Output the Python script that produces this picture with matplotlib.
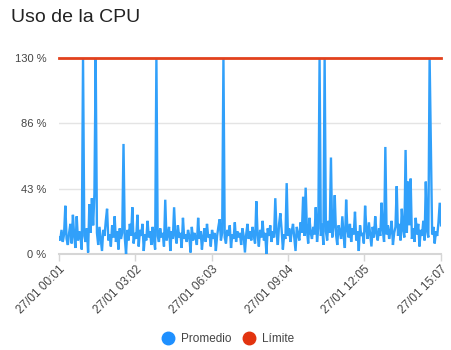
import matplotlib

matplotlib.use("Agg")
import matplotlib.pyplot as plt
from matplotlib.lines import Line2D

plt.rcParams["font.family"] = ["Liberation Sans", "DejaVu Sans"]

# CPU samples, one every 3 minutes starting at 27/01 00:01 (minute 1)
promedio = [
    11, 9, 16, 8, 13, 32, 10, 6, 14, 20,
    7, 26, 12, 4, 25, 9, 15, 11, 3, 130,
    12, 8, 17, 1, 33, 14, 37, 19, 40, 130,
    14, 6, 18, 10, 2, 16, 12, 22, 30, 9,
    13, 5, 19, 11, 25, 8, 15, 3, 17, 10,
    14, 73, 11, 0, 16, 9, 20, 12, 31, 7,
    14, 10, 26, 5, 16, 12, 20, 2, 13, 9,
    22, 11, 15, 6, 18, 10, 3, 130, 12, 8,
    17, 11, 14, 5, 36, 9, 13, 18, 2, 15,
    10, 31, 12, 7, 19, 11, 14, 4, 24, 10,
    13, 8, 16, 12, 1, 18, 9, 14, 11, 6,
    24, 10, 15, 3, 12, 17, 8, 20, 11, 13,
    5, 16, 10, 14, 2, 12, 18, 23, 9, 14,
    130, 11, 7, 16, 12, 19, 4, 13, 10, 21,
    8, 15, 11, 14, 6, 17, 12, 1, 13, 20,
    10, 15, 9, 18, 12, 7, 35, 13, 5, 16,
    11, 22, 9, 14, 0, 17, 12, 19, 8, 15,
    11, 37, 14, 6, 20, 27, 16, 3, 13, 10,
    47, 12, 17, 8, 15, 20, 11, 2, 18, 13,
    9, 21, 14, 38, 12, 44, 16, 7, 24, 14,
    10, 18, 13, 31, 8, 17, 130, 12, 20, 6,
    130, 15, 9, 22, 14, 64, 11, 18, 39, 13,
    6, 19, 15, 10, 25, 12, 4, 36, 16, 11,
    20, 8, 17, 13, 28, 9, 15, 2, 19, 12,
    14, 7, 32, 16, 10, 21, 13, 5, 18, 11,
    25, 14, 9, 17, 12, 34, 16, 8, 71, 13,
    19, 10, 15, 22, 6, 14, 18, 45, 12, 20,
    9, 30, 16, 11, 69, 14, 48, 19, 50, 10,
    17, 8, 24, 13, 20, 5, 16, 12, 22, 9,
    48, 15, 11, 130, 69, 13, 18, 7, 15, 12,
    21, 34, 19,
]
minutes = [1 + 3 * i for i in range(len(promedio))]
limite = 130

x_ticks = [1, 182, 363, 544, 725, 907]
x_labels = ["27/01 00:01", "27/01 03:02", "27/01 06:03",
            "27/01 09:04", "27/01 12:05", "27/01 15:07"]
y_ticks = [0, 130 / 3, 260 / 3, 130]
y_labels = ["0 %", "43 %", "86 %", "130 %"]

BLUE = "#31a0fa"
RED = "#e2411d"
TEXT = "#444444"

fig = plt.figure(figsize=(4.51, 3.5), dpi=100)
ax = fig.add_axes([59 / 451, 1 - 254 / 350, 382 / 451, 196 / 350])

ax.plot(minutes, promedio, color=BLUE, lw=1.7, solid_joinstyle="miter", zorder=3)
ax.axhline(limite, color=RED, lw=2, zorder=4, clip_on=False)

ax.set_xlim(x_ticks[0], x_ticks[-1])
ax.set_ylim(0, 130)

ax.set_yticks(y_ticks)
ax.set_yticklabels(y_labels)
ax.set_xticks(x_ticks)
ax.set_xticklabels(x_labels, rotation=45, ha="right", rotation_mode="anchor")

ax.grid(axis="y", color="#e4e4e4", lw=1, zorder=0)
ax.tick_params(axis="y", length=0, pad=9, labelsize=8, labelcolor=TEXT)
ax.tick_params(axis="x", length=5, width=1, color="#d6d6d6", pad=2,
               labelsize=8.5, labelcolor=TEXT)

for side in ("top", "right", "left"):
    ax.spines[side].set_visible(False)
ax.spines["bottom"].set_color("#d6d6d6")
ax.spines["bottom"].set_linewidth(1.5)

fig.text(11 / 451, 1 - 17 / 350, "Uso de la CPU", fontsize=14,
         color="#222222", va="center", ha="left")

handles = [
    Line2D([], [], ls="none", marker="o", markersize=9, color="#1e90ff",
           label="Promedio"),
    Line2D([], [], ls="none", marker="o", markersize=9, color="#e2330f",
           label="Límite"),
]
fig.legend(handles=handles, loc="center", bbox_to_anchor=(0.5, 1 - 339 / 350),
           ncol=2, frameon=False, fontsize=8.5, handletextpad=0.1,
           columnspacing=0.5, labelcolor=TEXT)

fig.savefig("out.png", dpi=100, facecolor="white")
